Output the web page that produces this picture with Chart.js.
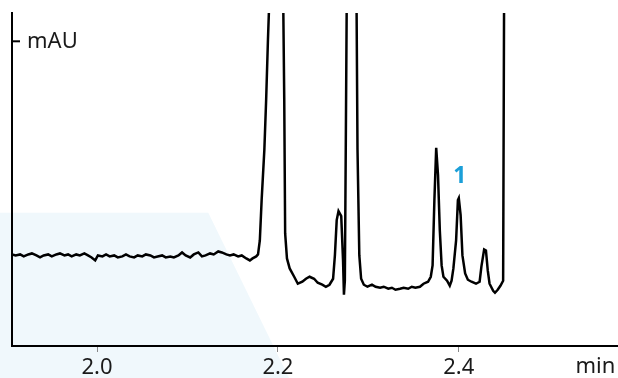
<!DOCTYPE html>
<html>
<head>
<meta charset="utf-8">
<script src="https://cdn.jsdelivr.net/npm/chart.js@4"></script>
<style>
  html, body { margin: 0; padding: 0; background: #fff; }
</style>
</head>
<body>
<canvas id="chart" width="618" height="378"></canvas>
<script>
// retention time (min) and detector signal
var tempo = [1.906,1.910,1.915,1.919,1.924,1.928,1.933,1.937,1.941,1.946,1.950,1.955,1.959,1.964,1.968,1.972,1.977,1.981,1.986,1.990,1.994,1.998,
  2.001,2.006,2.010,2.014,2.019,2.023,2.028,2.032,2.036,2.041,2.045,2.050,2.054,2.059,2.063,2.067,2.072,2.076,2.081,2.085,2.090,2.094,2.098,
  2.103,2.107,2.112,2.116,2.120,2.125,2.129,2.134,2.138,2.143,2.147,2.151,2.156,2.160,2.165,2.169,2.172,2.176,
  2.178,2.180,2.182,2.185,2.187,2.189,2.190,2.192,2.198,2.203,2.206,2.207,2.208,2.210,2.213,2.218,2.222,2.227,2.231,2.235,2.240,2.244,2.249,
  2.253,2.257,2.261,2.263,2.265,2.267,2.270,2.272,2.273,2.274,2.275,2.276,2.278,2.282,2.285,2.287,2.288,2.290,2.292,2.295,2.299,2.304,2.308,
  2.313,2.317,2.322,2.326,2.330,2.335,2.339,2.344,2.348,2.352,2.357,2.361,2.366,2.369,2.371,2.373,2.375,2.377,2.379,2.381,2.383,2.387,2.390,
  2.392,2.394,2.397,2.399,2.400,2.402,2.404,2.407,2.410,2.414,2.419,2.423,2.425,2.428,2.430,2.432,2.434,2.438,2.440,2.443,2.446,2.449,2.450,2.452];
var sinal = [27.5,27.2,27.5,26.9,27.5,27.8,27.2,26.6,27.2,27.5,26.9,27.5,27.8,27.2,27.5,26.9,27.5,27.2,27.8,27.2,26.6,25.7,
  27.2,26.9,27.5,26.9,27.2,26.6,26.9,27.5,26.9,26.6,27.2,26.9,27.5,27.2,26.6,26.9,27.2,26.6,26.9,26.6,27.2,28.1,27.2,
  26.6,27.5,28.1,26.9,27.2,27.8,27.5,28.4,28.1,27.5,27.2,27.5,26.9,27.2,26.3,25.7,26.3,26.9,
  27.5,31.7,43.8,58.9,74.0,92.1,100,130,130,130,100,74.0,33.8,26.3,23.3,20.8,18.7,19.3,20.2,20.8,20.2,19.0,18.4,
  17.8,18.4,20.2,27.2,37.8,40.5,39.0,25.7,15.4,19.6,58.9,100,130,130,130,100,58.9,27.2,20.2,18.4,17.8,18.4,17.8,
  17.5,17.8,17.2,17.5,16.9,17.2,17.5,17.2,17.8,17.5,17.8,18.7,19.3,20.8,24.2,43.8,59.5,51.4,34.7,24.2,20.8,19.6,18.1,
  19.6,23.3,31.7,43.8,44.4,39.3,27.2,21.8,19.9,19.3,18.7,19.3,23.9,29.0,28.7,22.7,18.7,16.6,16.0,16.9,18.1,19.6,100,130];

var xTicks = [2.0, 2.2, 2.4];
var yMarca = 91.5;          // the single "mAU" tick on the y axis

// solvent gradient band (light blue)
var gradTempo = [1.88, 2.123, 2.195];
var gradNivel = [40, 40, 0];

var picoTempo = [2.401];
var picoAltura = [50.9];
var picoNome = ["1"];

var pontos = tempo.map(function(t, i){ return {x: t, y: sinal[i]}; });

const fundoGradiente = {
  id: 'fundoGradiente',
  beforeDraw(chart){
    const ctx = chart.ctx, sx = chart.scales.x, sy = chart.scales.y;
    const H = chart.height;
    const p = gradTempo.map((t, i) => ({x: sx.getPixelForValue(t), y: sy.getPixelForValue(gradNivel[i])}));
    const a = p[p.length-2], b = p[p.length-1];
    const xBase = a.x + (b.x - a.x) * (H - a.y) / (b.y - a.y);
    ctx.save();
    ctx.fillStyle = 'rgb(240,248,252)';
    ctx.beginPath();
    ctx.moveTo(0, p[0].y);
    for (let i = 1; i < p.length; i++) ctx.lineTo(p[i].x, p[i].y);
    ctx.lineTo(xBase, H);
    ctx.lineTo(0, H);
    ctx.closePath();
    ctx.fill();
    ctx.restore();
  }
};

const textos = {
  id: 'textos',
  afterDraw(chart){
    const ctx = chart.ctx, sx = chart.scales.x, sy = chart.scales.y, area = chart.chartArea;
    ctx.save();
    // mAU tick + label
    const ym = sy.getPixelForValue(yMarca);
    ctx.strokeStyle = '#000';
    ctx.lineWidth = 2;
    ctx.beginPath();
    ctx.moveTo(area.left, ym);
    ctx.lineTo(area.left + 8, ym);
    ctx.stroke();
    ctx.fillStyle = '#1a1a1a';
    ctx.font = '22px "Noto Sans"';
    ctx.textBaseline = 'middle';
    ctx.textAlign = 'left';
    ctx.fillText('mAU', area.left + 15, ym);
    // unit on x axis
    ctx.textAlign = 'center';
    ctx.fillText('min', sx.getPixelForValue(2.551), 367);
    // peak labels
    ctx.fillStyle = '#1b9fd8';
    ctx.font = 'bold 23px "Noto Sans"';
    picoNome.forEach(function(n, i){
      ctx.fillText(n, sx.getPixelForValue(picoTempo[i]), sy.getPixelForValue(picoAltura[i]));
    });
    ctx.restore();
  }
};

new Chart("chart", {
  type: "line",
  data: {
    datasets: [{
      data: pontos,
      borderColor: "#000",
      borderWidth: 2.5,
      pointRadius: 0,
      fill: false,
      tension: 0
    }]
  },
  options: {
    responsive: false,
    animation: false,
    layout: {padding: {top: 13, left: 12, right: 0, bottom: -6}},
    plugins: {legend: {display: false}, tooltip: {enabled: false}},
    scales: {
      x: {
        type: 'linear',
        min: 1.906,
        max: 2.576,
        afterBuildTicks: function(s){ s.ticks = xTicks.map(function(v){ return {value: v}; }); },
        ticks: {
          font: {family: 'Noto Sans', size: 22, lineHeight: 1},
          color: '#1a1a1a',
          padding: 5,
          maxRotation: 0,
          callback: function(v){ return v.toFixed(1); }
        },
        grid: {drawOnChartArea: false, drawTicks: true, tickLength: 6, color: '#888', lineWidth: 1},
        border: {display: true, color: '#000', width: 2}
      },
      y: {
        min: 0,
        max: 100,
        ticks: {display: false},
        grid: {display: false, drawTicks: false},
        border: {display: true, color: '#000', width: 2}
      }
    }
  },
  plugins: [fundoGradiente, textos]
});
</script>
</body>
</html>
